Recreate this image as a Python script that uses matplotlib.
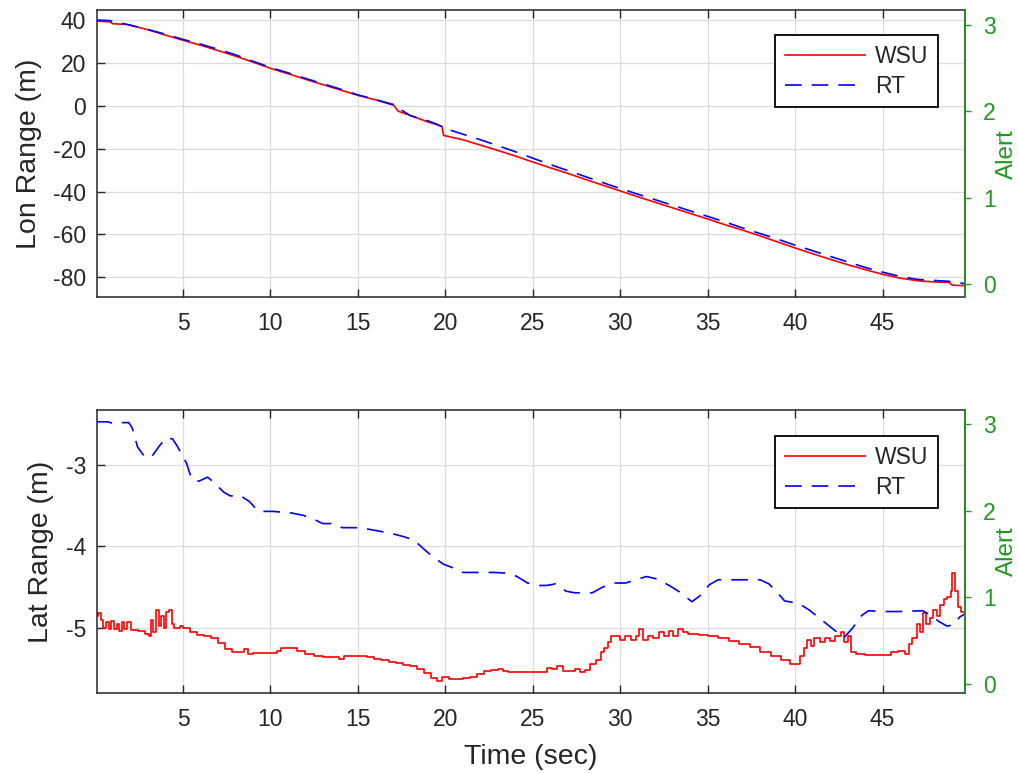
import matplotlib
matplotlib.use("Agg")
import matplotlib.pyplot as plt

plt.rcParams['font.family'] = ['Liberation Sans', 'DejaVu Sans']
plt.rcParams['axes.unicode_minus'] = False

# Lon range (top plot)
t_lon_wsu = [0, 0.8, 1.0, 1.8, 3, 4, 5, 6, 7, 8, 9, 10, 11, 12, 13, 14, 15, 16, 17, 17.3,
             18, 19, 19.8, 19.9, 21, 22, 23, 24, 25, 26, 27, 28, 29, 30, 31, 32, 33, 34,
             35, 36, 37, 38, 39, 40, 41, 42, 43, 44, 45, 46, 47, 48, 48.8, 49, 49.7]
lon_wsu = [39.6, 39.2, 38.3, 38.0, 35.5, 33, 30.6, 28.3, 25.8, 23.2, 20.4, 17.5, 15, 12.4, 9.9,
           7.4, 4.9, 2.8, 0.8, -2.5, -4.5, -7.5, -9.5, -13.8, -15.8, -18.3, -20.8, -23.4, -26.2,
           -28.9, -31.5, -34.3, -37, -39.7, -42.4, -45, -47.6, -50.2, -52.8, -55.5, -58, -60.7,
           -63.5, -66.3, -69, -71.6, -74.1, -76.4, -78.6, -80.4, -81.6, -82.2, -82.4, -83.7, -83.9]

t_lon_rt = [0, 0.8, 1.5, 2, 3, 4, 5, 6, 7, 8, 9, 10, 11, 12, 13, 14, 15, 16, 17, 17.5,
            18, 19, 19.5, 20, 21, 22, 23, 24, 25, 26, 27, 28, 29, 30, 31, 32, 33, 34, 35,
            36, 37, 38, 39, 40, 41, 42, 43, 44, 45, 46, 47, 48, 49, 49.7]
lon_rt = [40, 39.8, 38.5, 37.6, 35.6, 33.4, 31, 28.8, 26.4, 23.8, 20.8, 17.9, 15.4, 12.8, 10.3,
          7.8, 5.1, 3.0, 0.4, -2.0, -4.6, -7.0, -8.5, -10.6, -13.2, -15.8, -18.6, -21.4, -24.4,
          -27.4, -30.2, -33.0, -35.8, -38.6, -41.2, -43.8, -46.4, -49.0, -51.6, -54.2, -57.0,
          -59.6, -62.2, -65.0, -67.6, -70.2, -72.8, -75.4, -77.6, -79.6, -81.0, -81.5, -82.0, -83.0]

# Lat range (bottom plot)
t_lat_wsu = [0.0, 0.15, 0.3, 0.45, 0.6, 0.75, 0.9, 1.05, 1.2, 1.35, 1.5, 1.65, 1.8, 2.0, 2.4,
             2.8, 3.05, 3.15, 3.3, 3.45, 3.6, 3.75, 3.9, 4.0, 4.2, 4.35, 4.5, 4.8, 5.0, 5.4,
             5.8, 6.2, 6.6, 7.0, 7.4, 7.8, 8.4, 8.5, 8.7, 9.0, 9.5, 10.0, 10.4, 10.6, 11.0,
             11.5, 12.0, 12.5, 13.0, 13.5, 13.9, 14.2, 15.0, 15.5, 15.9, 16.3, 16.8, 17.2,
             17.6, 18.0, 18.4, 18.8, 19.2, 19.5, 19.8, 20.2, 21.0, 21.4, 21.8, 22.2, 22.6,
             23.0, 23.3, 23.6, 24.5, 25.7, 25.8, 26.1, 26.4, 26.7, 27.1, 27.4, 27.7, 28.0,
             28.3, 28.6, 28.9, 29.1, 29.3, 29.5, 29.8, 30.0, 30.3, 30.6, 30.9, 31.1, 31.3,
             31.6, 31.9, 32.2, 32.5, 32.8, 33.0, 33.3, 33.6, 33.9, 34.5, 35.0, 35.6, 36.2,
             36.8, 37.4, 38.0, 38.6, 39.2, 39.7, 40.1, 40.3, 40.5, 40.7, 40.9, 41.1, 41.4,
             41.7, 42.0, 42.3, 42.6, 42.8, 43.0, 43.2, 43.5, 44.0, 44.5, 45.2, 45.5, 45.9,
             46.3, 46.5, 46.7, 47.0, 47.15, 47.3, 47.5, 47.7, 47.9, 48.1, 48.3, 48.5, 48.7,
             48.9, 49.0, 49.15, 49.3, 49.5, 49.7]
lat_wsu = [-4.85, -4.82, -4.90, -5.0, -4.93, -5.02, -4.92, -5.02, -4.95, -5.04, -4.93, -5.02,
           -4.93, -5.03, -5.04, -5.07, -5.1, -4.9, -5.05, -4.78, -4.98, -4.85, -5.0, -4.8,
           -4.78, -4.95, -5.0, -4.98, -5.0, -5.05, -5.09, -5.1, -5.13, -5.19, -5.26, -5.3,
           -5.3, -5.26, -5.32, -5.31, -5.31, -5.31, -5.28, -5.25, -5.25, -5.28, -5.32, -5.34,
           -5.36, -5.36, -5.38, -5.35, -5.35, -5.36, -5.38, -5.4, -5.42, -5.43, -5.46, -5.47,
           -5.5, -5.56, -5.62, -5.65, -5.61, -5.63, -5.62, -5.6, -5.57, -5.53, -5.52, -5.50,
           -5.53, -5.54, -5.54, -5.54, -5.49, -5.5, -5.47, -5.53, -5.53, -5.5, -5.54, -5.52,
           -5.45, -5.4, -5.3, -5.25, -5.17, -5.1, -5.1, -5.15, -5.1, -5.15, -5.1, -5.02,
           -5.15, -5.1, -5.13, -5.05, -5.1, -5.04, -5.1, -5.01, -5.05, -5.08, -5.09, -5.1,
           -5.13, -5.16, -5.2, -5.24, -5.3, -5.35, -5.4, -5.44, -5.45, -5.35, -5.25, -5.15,
           -5.22, -5.12, -5.18, -5.12, -5.16, -5.1, -5.05, -5.18, -5.1, -5.3, -5.32, -5.33,
           -5.33, -5.33, -5.3, -5.28, -5.32, -5.2, -5.12, -4.95, -5.05, -4.82, -4.95, -4.88,
           -4.78, -4.85, -4.72, -4.65, -4.62, -4.55, -4.33, -4.55, -4.75, -4.8, -4.82]

t_lat_rt = [0.0, 0.7, 1.0, 1.3, 1.9, 2.1, 2.4, 2.8, 3.2, 3.6, 4.0, 4.4, 4.7, 5.2, 5.5, 5.9,
            6.4, 6.8, 7.3, 7.7, 8.3, 8.8, 9.3, 10.1, 10.7, 11.2, 11.9, 12.6, 13.0, 13.6,
            14.1, 15.1, 15.9, 16.9, 17.6, 18.2, 18.7, 19.3, 19.9, 20.4, 21.0, 22.1, 22.8,
            23.6, 24.1, 24.7, 25.4, 25.8, 26.3, 26.9, 27.4, 28.4, 29.0, 29.7, 30.3, 30.9,
            31.5, 32.1, 32.8, 33.4, 34.1, 34.6, 35.1, 35.6, 38.0, 38.5, 39.0, 39.4, 40.2,
            40.8, 41.5, 42.2, 42.8, 43.3, 43.8, 44.2, 45.0, 46.0, 47.3, 47.8, 48.2, 48.7,
            49.1, 49.4, 49.7]
lat_rt = [-2.47, -2.47, -2.49, -2.48, -2.48, -2.55, -2.78, -2.9, -2.9, -2.78, -2.67, -2.68,
          -2.78, -2.98, -3.18, -3.2, -3.15, -3.22, -3.33, -3.38, -3.38, -3.45, -3.57, -3.57,
          -3.58, -3.59, -3.62, -3.68, -3.72, -3.72, -3.77, -3.77, -3.8, -3.84, -3.88, -3.92,
          -4.02, -4.13, -4.22, -4.26, -4.32, -4.32, -4.32, -4.33, -4.37, -4.45, -4.48, -4.48,
          -4.46, -4.55, -4.57, -4.57, -4.5, -4.45, -4.45, -4.41, -4.37, -4.4, -4.48, -4.56,
          -4.68, -4.6, -4.47, -4.41, -4.41, -4.46, -4.57, -4.67, -4.7, -4.78, -4.9, -5.02,
          -5.12, -5.0, -4.85, -4.79, -4.8, -4.8, -4.79, -4.85, -4.92, -4.98, -4.96, -4.87, -4.83]

x_ticks = [5, 10, 15, 20, 25, 30, 35, 40, 45]
lon_ticks = [40, 20, 0, -20, -40, -60, -80]
lat_ticks = [-3, -4, -5]
alert_ticks = [0, 1, 2, 3]

dark = '#262626'
green = '#1f9a1f'
dash = (0, (10, 6))

fig = plt.figure(figsize=(10.18, 7.74), dpi=100)
ax_top = fig.add_axes([0.0953, 0.616, 0.8527, 0.371])
ax_bot = fig.add_axes([0.0953, 0.1047, 0.8527, 0.3656])


def style(ax, ylim, yticks, ylabel, alert_ylim, legend_y):
    ax.set_xlim(0.08, 49.72)
    ax.set_ylim(*ylim)
    ax.set_xticks(x_ticks)
    ax.set_yticks(yticks)
    ax.grid(True, color='#dcdcdc', linewidth=0.9)
    ax.set_axisbelow(True)
    ax.tick_params(direction='in', top=True, right=True, length=6, width=1,
                   labelsize=16.5, colors=dark)
    ax.tick_params(axis='x', pad=11)
    ax.tick_params(axis='y', pad=8)
    for sp in ax.spines.values():
        sp.set_color(dark)
        sp.set_linewidth(1.1)
    ax.set_ylabel(ylabel, fontsize=20.5, color=dark, labelpad=8)
    leg = ax.legend(loc='upper right', bbox_to_anchor=(0.969, legend_y), borderaxespad=0,
                    fontsize=16.5, fancybox=False, framealpha=1, edgecolor='black',
                    handlelength=3.5, borderpad=0.42, labelspacing=0.3, handletextpad=0.45)
    leg.get_frame().set_linewidth(1.3)
    for txt in leg.get_texts():
        txt.set_color(dark)

    ax2 = ax.twinx()
    ax2.set_ylim(*alert_ylim)
    ax2.set_yticks(alert_ticks)
    ax2.tick_params(axis='y', direction='out', length=4, width=1, colors=green,
                    labelsize=16.5, pad=9)
    ax2.spines['right'].set_color(green)
    ax2.spines['right'].set_linewidth(1.1)
    for s in ('left', 'top', 'bottom'):
        ax2.spines[s].set_visible(False)
    ax2.set_ylabel('Alert', fontsize=17.5, color=green, labelpad=0)
    return ax2


ax_top.plot(t_lon_wsu, lon_wsu, color='red', linewidth=1.2, label='WSU')
ax_top.plot(t_lon_rt, lon_rt, color='blue', linewidth=1.2, linestyle=dash, label='RT')
style(ax_top, (-89.3, 44.7), lon_ticks, 'Lon Range (m)', (-0.15, 3.17), 0.913)

ax_bot.plot(t_lat_wsu, lat_wsu, color='red', linewidth=1.2, drawstyle='steps-post', label='WSU')
ax_bot.plot(t_lat_rt, lat_rt, color='blue', linewidth=1.2, linestyle=dash, label='RT')
style(ax_bot, (-5.8, -2.325), lat_ticks, 'Lat Range (m)', (-0.1, 3.16), 0.908)
ax_bot.set_xlabel('Time (sec)', fontsize=20.5, color=dark, labelpad=9)

fig.savefig('out.png', dpi=100)
